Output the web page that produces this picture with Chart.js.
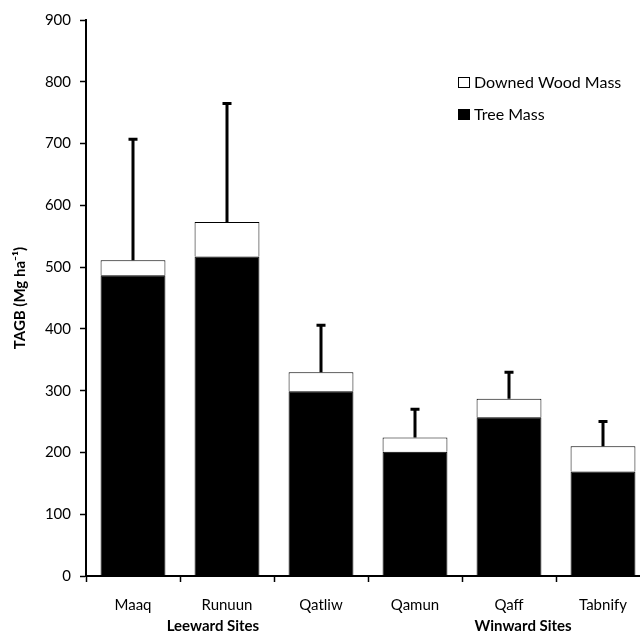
<!DOCTYPE html>
<html>
<head>
<meta charset="utf-8">
<script src="https://cdn.jsdelivr.net/npm/chart.js@4"></script>
<style>
  html, body { margin: 0; padding: 0; background: #fff; overflow: hidden; }
  #wrap { width: 660px; height: 633px; }
</style>
</head>
<body>
<div id="wrap"><canvas id="chart"></canvas></div>
<script>
// сайты
const sites = ["Maaq", "Runuun", "Qatliw", "Qamun", "Qaff", "Tabnify"];

// масса деревьев
const treeMass = [487, 517, 299, 201, 257, 169];

// масса валежника
const downedMass = [24, 56, 31, 23, 30, 41];

// верх планки погрешности
const errorTop = [707, 765, 406, 270, 330, 250];

// группы сайтов
const groups = [
  { label: "Leeward Sites", at: 0.85 },
  { label: "Winward Sites", at: 4.15 }
];

const yTicks = [0, 100, 200, 300, 400, 500, 600, 700, 800, 900];

const FONT = "Lato, 'Open Sans', sans-serif";


// планки погрешности
const errorBars = {
  id: "errorBars",
  afterDatasetsDraw(chart) {
    const c = chart.ctx;
    const x = chart.scales.x;
    const y = chart.scales.y;
    c.save();
    c.strokeStyle = "#000";
    c.lineWidth = 3;
    sites.forEach((s, i) => {
      const px = x.getPixelForValue(i);
      const y0 = y.getPixelForValue(treeMass[i] + downedMass[i]);
      const y1 = y.getPixelForValue(errorTop[i]);
      c.beginPath();
      c.moveTo(px, y0);
      c.lineTo(px, y1);
      c.moveTo(px - 4.5, y1);
      c.lineTo(px + 4.5, y1);
      c.stroke();
    });
    c.restore();
  }
};


// подписи групп и легенда
const extras = {
  id: "extras",
  afterDraw(chart) {
    const c = chart.ctx;
    const x = chart.scales.x;
    c.save();
    c.fillStyle = "#000";
    c.font = "bold 15px " + FONT;
    c.textAlign = "center";
    c.textBaseline = "middle";
    groups.forEach(g => {
      c.fillText(g.label, x.getPixelForValue(g.at), 626);
    });

    // легенда
    const items = [chart.data.datasets[1], chart.data.datasets[0]];
    c.font = "16px " + FONT;
    c.textAlign = "left";
    items.forEach((ds, k) => {
      const ly = 82 + k * 32;
      c.fillStyle = ds.backgroundColor;
      c.fillRect(458.5, ly - 4.5, 11, 10);
      c.strokeStyle = "#000";
      c.lineWidth = 1;
      c.strokeRect(458.5, ly - 4.5, 11, 10);
      c.fillStyle = "#000";
      c.fillText(ds.label, 474, ly + 1);
    });
    c.restore();
  }
};


const ctx = document.getElementById("chart");

new Chart(ctx, {
  type: "bar",
  data: {
    labels: sites,
    datasets: [
      {
        label: "Tree Mass",
        data: treeMass,
        backgroundColor: "#000",
        borderColor: "#000",
        borderWidth: 1
      },
      {
        label: "Downed Wood Mass",
        data: downedMass,
        backgroundColor: "#fff",
        borderColor: "#000",
        borderWidth: 1
      }
    ]
  },
  options: {
    responsive: true,
    maintainAspectRatio: false,
    animation: false,
    layout: { padding: { top: 20, right: 10, left: 0, bottom: 0 } },
    datasets: {
      bar: { barPercentage: 0.69, categoryPercentage: 1 }
    },
    plugins: {
      legend: { display: false },
      tooltip: { enabled: false }
    },
    scales: {
      x: {
        stacked: true,
        grid: {
          display: true,
          drawOnChartArea: false,
          offset: true,
          tickLength: 6,
          tickColor: "#000",
          tickWidth: 1.5
        },
        border: { color: "#000", width: 2 },
        ticks: {
          color: "#000",
          font: { family: FONT, size: 15 },
          padding: 14,
          maxRotation: 0
        },
        afterFit(scale) { scale.height = 57; }
      },
      y: {
        stacked: true,
        min: 0,
        max: 900,
        afterBuildTicks(scale) {
          scale.ticks = yTicks.map(v => ({ value: v }));
        },
        grid: {
          drawOnChartArea: false,
          tickLength: 6,
          tickColor: "#000",
          tickWidth: 1.5
        },
        border: { color: "#000", width: 2 },
        ticks: {
          color: "#000",
          font: { family: FONT, size: 15 },
          padding: 9
        },
        title: {
          display: true,
          text: "TAGB (Mg ha\u207B\u00B9)",
          color: "#000",
          font: { family: FONT, size: 15, weight: "bold" },
          padding: { top: 11, bottom: 0 }
        },
        afterFit(scale) { scale.width = 86; }
      }
    }
  },
  plugins: [errorBars, extras]
});
</script>
</body>
</html>
